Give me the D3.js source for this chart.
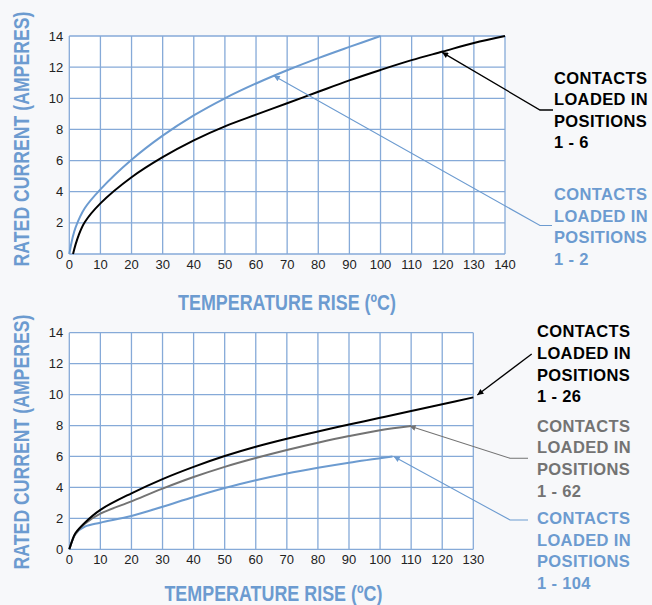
<!DOCTYPE html>
<html>
<head>
<meta charset="utf-8">
<script src="https://cdn.jsdelivr.net/npm/d3@7"></script>
<style>
    body { margin: 0; background: #f7f8fa; }
    svg { display: block; }
    .tick-label { font-family: "Liberation Sans", Arial, sans-serif; font-size: 13px; fill: #222; }
    .axis-title { font-family: "Liberation Sans", Arial, sans-serif; font-weight: bold; font-size: 22px; fill: #6c9bd0; }
    .note { font-family: "Liberation Sans", Arial, sans-serif; font-weight: bold; font-size: 16.5px; letter-spacing: 0.35px; }
</style>
</head>
<body>
<script>
// ---- data ----
// top chart (0..140 degC)
var top_x_ticks = [0, 10, 20, 30, 40, 50, 60, 70, 80, 90, 100, 110, 120, 130, 140];
var y_ticks = [0, 2, 4, 6, 8, 10, 12, 14];

var pos16_temp = [1.2, 2, 3, 5, 10, 20, 30, 40, 50, 60, 70, 80, 90, 100, 110, 120, 130, 140];
var pos16_amps = [0, 0.6, 1.2, 2.05, 3.25, 4.93, 6.22, 7.3, 8.2, 8.95, 9.68, 10.42, 11.15, 11.82, 12.45, 13.0, 13.55, 14.0];

var pos12_temp = [0, 1, 2, 5, 10, 20, 30, 40, 50, 60, 70, 80, 90, 100];
var pos12_amps = [0, 1.0, 1.7, 2.95, 4.15, 6.05, 7.6, 8.9, 10.0, 10.95, 11.8, 12.58, 13.3, 14.0];

// bottom chart (0..130 degC)
var bottom_x_ticks = [0, 10, 20, 30, 40, 50, 60, 70, 80, 90, 100, 110, 120, 130];

var pos126_temp = [0, 1, 2, 5, 10, 20, 30, 40, 50, 60, 70, 80, 90, 100, 110, 120, 130];
var pos126_amps = [0, 0.6, 1.05, 1.72, 2.55, 3.62, 4.54, 5.33, 6.03, 6.63, 7.15, 7.62, 8.06, 8.5, 8.94, 9.38, 9.82];

var pos162_temp = [0, 1, 2, 5, 10, 20, 30, 40, 50, 60, 70, 80, 90, 100, 110];
var pos162_amps = [0, 0.6, 1.0, 1.65, 2.3, 3.1, 3.92, 4.67, 5.33, 5.9, 6.42, 6.89, 7.32, 7.7, 7.97];

var pos1104_temp = [0, 1, 2, 5, 10, 20, 30, 40, 50, 60, 70, 80, 90, 104];
var pos1104_amps = [0, 0.6, 1.0, 1.46, 1.72, 2.15, 2.75, 3.38, 3.96, 4.46, 4.9, 5.27, 5.6, 6.0];

var note_lines = ["CONTACTS", "LOADED IN", "POSITIONS"];
var y_title = "RATED CURRENT (AMPERES)";
var x_title = "TEMPERATURE RISE (\u00baC)";

function zip(xs, ys) {
    return xs.map(function (x, i) { return [x, ys[i]]; });
}

var width = 652, height = 605;
var BLUE = "#6c9bd0", GRID = "#86aad8", GRAY = "#737373";

var svg = d3.select("body").append("svg").attr("width", width).attr("height", height);

// arrow heads (one per colour)
var defs = svg.append("defs");
[["arrow-black", "#000"], ["arrow-blue", BLUE], ["arrow-gray", GRAY]].forEach(function (m) {
    defs.append("marker")
        .attr("id", m[0])
        .attr("viewBox", "0 0 10 10")
        .attr("refX", 10).attr("refY", 5)
        .attr("markerUnits", "userSpaceOnUse")
        .attr("markerWidth", 9).attr("markerHeight", 6)
        .attr("orient", "auto-start-reverse")
        .append("path")
        .attr("d", "M0,0 L10,5 L0,10 z")
        .attr("fill", m[1]);
});

// condensed title: squeeze the text horizontally to the wanted length
function squeezedText(g, str, len, place) {
    var t = g.append("text").attr("class", "axis-title").attr("text-anchor", "middle").text(str);
    var natural = t.node().getComputedTextLength();
    t.attr("transform", place + " scale(" + (len / natural) + ",1)");
    return t;
}

function drawPanel(cfg) {
    var x = d3.scaleLinear().domain([0, cfg.xmax]).range([cfg.left, cfg.right]);
    var y = d3.scaleLinear().domain([0, 14]).range([cfg.bottom, cfg.top]);
    var g = svg.append("g");

    // plot background
    g.append("rect")
        .attr("x", x(0)).attr("y", y(14))
        .attr("width", x(cfg.xmax) - x(0)).attr("height", y(0) - y(14))
        .attr("fill", "#fff");

    // grid
    g.selectAll(".vgrid").data(cfg.xticks).enter().append("line")
        .attr("x1", function (d) { return x(d); }).attr("x2", function (d) { return x(d); })
        .attr("y1", y(0)).attr("y2", y(14))
        .attr("stroke", GRID).attr("stroke-width", 1.3);
    g.selectAll(".hgrid").data(y_ticks).enter().append("line")
        .attr("x1", x(0)).attr("x2", x(cfg.xmax))
        .attr("y1", function (d) { return y(d); }).attr("y2", function (d) { return y(d); })
        .attr("stroke", GRID).attr("stroke-width", 1.3);

    // tick labels
    g.selectAll(".xl").data(cfg.xticks).enter().append("text")
        .attr("class", "tick-label")
        .attr("x", function (d) { return x(d); })
        .attr("y", y(0) + 15)
        .attr("text-anchor", "middle")
        .text(function (d) { return d; });
    g.selectAll(".yl").data(y_ticks).enter().append("text")
        .attr("class", "tick-label")
        .attr("x", x(0) - 6)
        .attr("y", function (d) { return y(d) + 4.5; })
        .attr("text-anchor", "end")
        .text(function (d) { return d; });

    // curves
    var line = d3.line()
        .x(function (d) { return x(d[0]); })
        .y(function (d) { return y(d[1]); })
        .curve(d3.curveCatmullRom.alpha(0.5));
    cfg.series.forEach(function (s) {
        g.append("path")
            .datum(s.data)
            .attr("fill", "none")
            .attr("stroke", s.color)
            .attr("stroke-width", s.width)
            .attr("stroke-linejoin", "round")
            .attr("d", line);
    });

    // annotations: leader from the curve to the label
    cfg.series.forEach(function (s) {
        var pts = [[x(s.tip[0]), y(s.tip[1])]].concat(s.leader);
        g.append("path")
            .attr("d", d3.line()(pts))
            .attr("fill", "none")
            .attr("stroke", s.color)
            .attr("stroke-width", s.color == "#000" ? 1.3 : 1.1)
            .attr("marker-start", "url(#" + s.marker + ")");

        var t = g.append("text").attr("class", "note").attr("fill", s.color);
        note_lines.concat([s.range]).forEach(function (l, i) {
            t.append("tspan").attr("x", cfg.noteX).attr("y", s.noteY + i * 21.6).text(l);
        });
    });

    // axis titles
    squeezedText(g, x_title, 218, "translate(" + cfg.xTitleX + "," + cfg.xTitleY + ")");
    squeezedText(g, y_title, 255, "translate(28.5," + cfg.yTitleY + ") rotate(-90)");
}

// top chart
drawPanel({
    xmax: 140, left: 69.3, right: 505, top: 36, bottom: 254,
    xticks: top_x_ticks, noteX: 554,
    xTitleX: 287, xTitleY: 309.5, yTitleY: 139,
    series: [
        { data: zip(pos12_temp, pos12_amps), color: BLUE, width: 2, marker: "arrow-blue",
          tip: [65.7, 11.45], leader: [[540, 225.5], [552, 225.5]], noteY: 200, range: "1 - 2" },
        { data: zip(pos16_temp, pos16_amps), color: "#000", width: 2, marker: "arrow-black",
          tip: [119.8, 12.95], leader: [[540, 110], [553, 110]], noteY: 83.5, range: "1 - 6" }
    ]
});

// bottom chart
drawPanel({
    xmax: 130, left: 69.3, right: 473.3, top: 332.7, bottom: 549.3,
    xticks: bottom_x_ticks, noteX: 537,
    xTitleX: 273.4, xTitleY: 600.5, yTitleY: 442,
    series: [
        { data: zip(pos1104_temp, pos1104_amps), color: BLUE, width: 2, marker: "arrow-blue",
          tip: [104.4, 6.0], leader: [[510, 520], [528, 520]], noteY: 524, range: "1 - 104" },
        { data: zip(pos162_temp, pos162_amps), color: GRAY, width: 2, marker: "arrow-gray",
          tip: [109.5, 7.97], leader: [[510, 458.3], [528, 458.3]], noteY: 431.7, range: "1 - 62" },
        { data: zip(pos126_temp, pos126_amps), color: "#000", width: 2, marker: "arrow-black",
          tip: [131.3, 9.97], leader: [[531.7, 354]], noteY: 337.3, range: "1 - 26" }
    ]
});
</script>
</body>
</html>
